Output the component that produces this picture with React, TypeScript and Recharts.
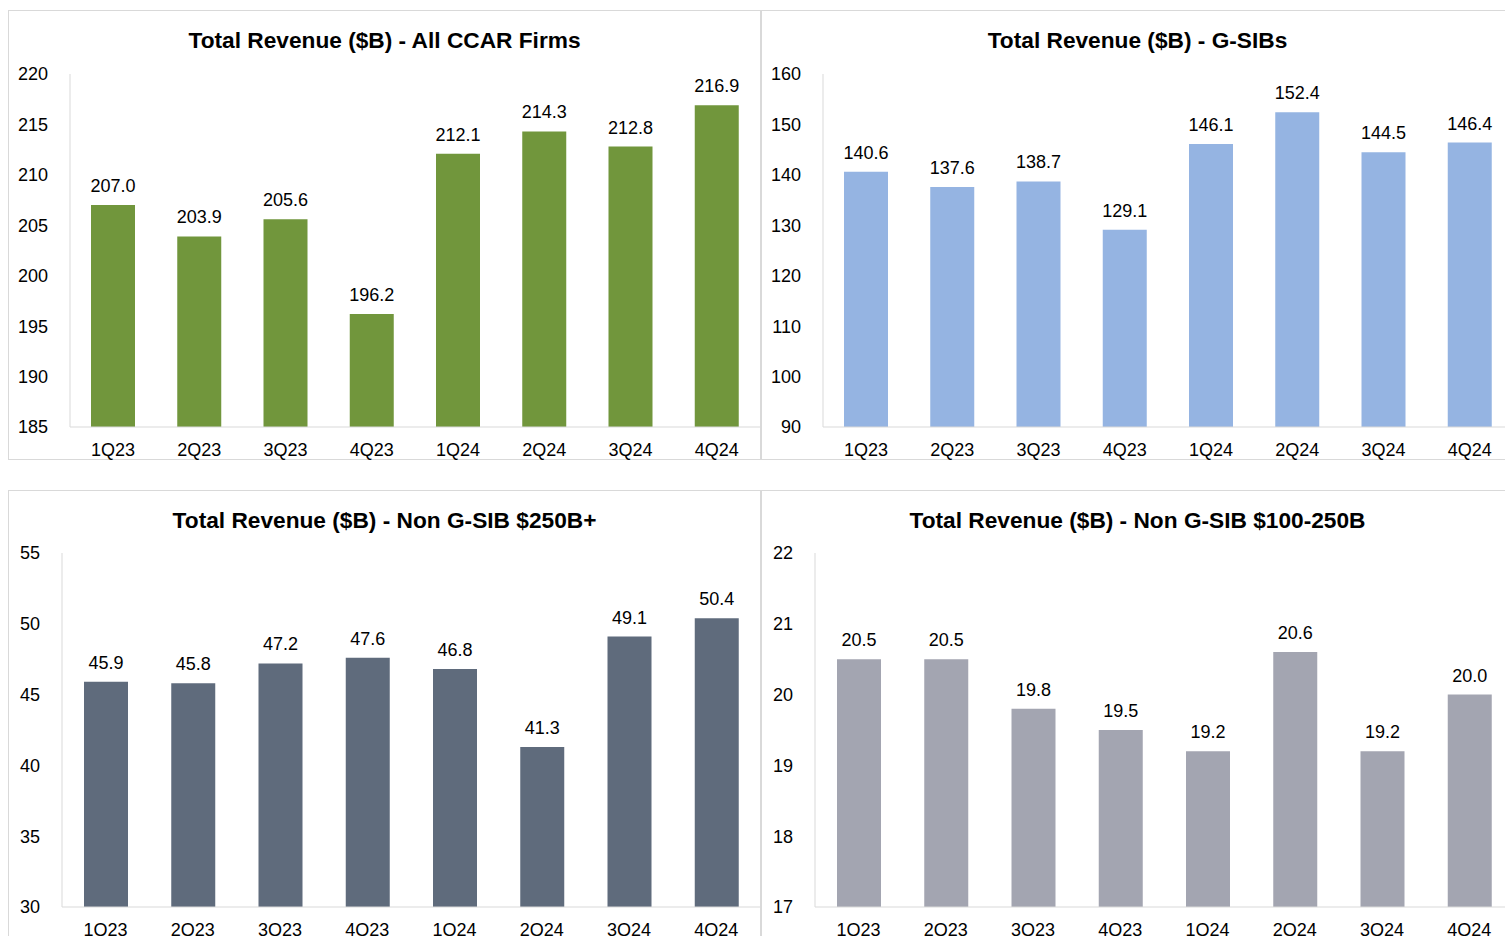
import React from 'react';
import { BarChart, Bar, XAxis, YAxis, LabelList } from 'recharts';

const quarters = ['1Q23', '2Q23', '3Q23', '4Q23', '1Q24', '2Q24', '3Q24', '4Q24'];

// Total revenue, $B
const allCcarFirms = [207.0, 203.9, 205.6, 196.2, 212.1, 214.3, 212.8, 216.9];
const gSibs = [140.6, 137.6, 138.7, 129.1, 146.1, 152.4, 144.5, 146.4];
const nonGSib250Plus = [45.9, 45.8, 47.2, 47.6, 46.8, 41.3, 49.1, 50.4];
const nonGSib100To250 = [20.5, 20.5, 19.8, 19.5, 19.2, 20.6, 19.2, 20.0];

const allCcarTicks = [185, 190, 195, 200, 205, 210, 215, 220];
const gSibTicks = [90, 100, 110, 120, 130, 140, 150, 160];
const nonGSib250Ticks = [30, 35, 40, 45, 50, 55];
const nonGSib100Ticks = [17, 18, 19, 20, 21, 22];

const FONT = '"Liberation Sans", Arial, Helvetica, sans-serif';
const GRID = '#d9d9d9';

interface PanelProps {
  title: string;
  values: number[];
  ticks: number[];
  color: string;
  left: number;
  top: number;
  axisWidth: number;
  plotTop: number;
}

const Panel: React.FC<PanelProps> = ({ title, values, ticks, color, left, top, axisWidth, plotTop }) => {
  const data = quarters.map((q, i) => ({ q, value: values[i] }));
  const domain = [ticks[0], ticks[ticks.length - 1]];

  return (
    <div style={{ position: 'absolute', left, top, width: 753, height: 450 }}>
      <div style={{ position: 'absolute', inset: 0, border: `1px solid ${GRID}`, boxSizing: 'border-box' }} />
      <div
        style={{
          position: 'absolute',
          left: 0,
          right: 0,
          top: 19,
          textAlign: 'center',
          fontSize: 22.7,
          lineHeight: '22px',
          fontWeight: 'bold',
          color: '#000',
        }}
      >
        {title}
      </div>
      <div style={{ position: 'absolute', left: 0, top: 0 }}>
        <BarChart width={753} height={450} data={data} margin={{ top: plotTop, right: 1, bottom: 0, left: 0 }}>
          <XAxis
            dataKey="q"
            interval={0}
            height={33}
            tickLine={false}
            tickSize={0}
            tickMargin={16}
            axisLine={{ stroke: GRID }}
            tick={{ fill: '#000', fontSize: 18, fontFamily: FONT }}
          />
          <YAxis
            type="number"
            domain={domain}
            ticks={ticks}
            interval={0}
            width={axisWidth}
            tickLine={false}
            tickSize={0}
            tickMargin={22}
            axisLine={{ stroke: GRID }}
            tick={{ fill: '#000', fontSize: 18, fontFamily: FONT }}
          />
          <Bar dataKey="value" fill={color} barSize={44} isAnimationActive={false}>
            <LabelList
              dataKey="value"
              position="top"
              offset={13}
              fill="#000"
              fontSize={18}
              fontFamily={FONT}
              formatter={(v: any) => Number(v).toFixed(1)}
            />
          </Bar>
        </BarChart>
      </div>
    </div>
  );
};

export default function App() {
  return (
    <div
      style={{
        position: 'fixed',
        left: 0,
        top: 0,
        width: 1505,
        height: 936,
        overflow: 'hidden',
        background: '#fff',
        fontFamily: FONT,
      }}
    >
      <Panel
        title="Total Revenue ($B) - All CCAR Firms"
        values={allCcarFirms}
        ticks={allCcarTicks}
        color="#71963c"
        left={8}
        top={10}
        axisWidth={62}
        plotTop={64}
      />
      <Panel
        title="Total Revenue ($B) - G-SIBs"
        values={gSibs}
        ticks={gSibTicks}
        color="#95b4e2"
        left={761}
        top={10}
        axisWidth={62}
        plotTop={64}
      />
      <Panel
        title="Total Revenue ($B) - Non G-SIB $250B+"
        values={nonGSib250Plus}
        ticks={nonGSib250Ticks}
        color="#5f6b7c"
        left={8}
        top={490}
        axisWidth={54}
        plotTop={63}
      />
      <Panel
        title="Total Revenue ($B) - Non G-SIB $100-250B"
        values={nonGSib100To250}
        ticks={nonGSib100Ticks}
        color="#a3a5b1"
        left={761}
        top={490}
        axisWidth={54}
        plotTop={63}
      />
    </div>
  );
}
